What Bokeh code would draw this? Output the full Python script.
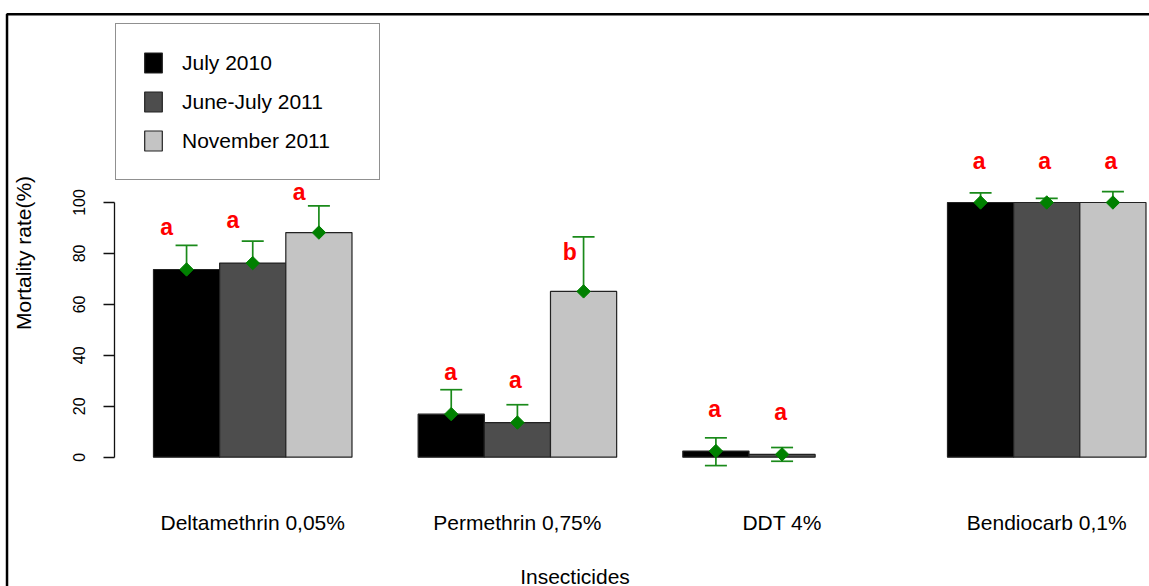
from math import pi
from bokeh.plotting import figure
from bokeh.models import (Range1d, LinearAxis, FixedTicker, Whisker, TeeHead,
                          ColumnDataSource, Label, BoxAnnotation)
from bokeh.core.properties import value
from bokeh.embed import file_html
from bokeh.resources import INLINE

# ---------------- data ----------------
categories = ["Deltamethrin 0,05%", "Permethrin 0,75%", "DDT 4%", "Bendiocarb 0,1%"]
series_names = ["July 2010", "June-July 2011", "November 2011"]

mortality_jul2010 = [73.7, 16.9, 2.4, 100.0]
mortality_junjul2011 = [76.2, 13.6, 1.1, 100.0]
mortality_nov2011 = [88.2, 65.1, None, 100.0]

upper_jul2010 = [83.2, 26.5, 7.6, 103.8]
lower_jul2010 = [63.8, 7.1, -3.3, 95.7]
upper_junjul2011 = [84.8, 20.6, 3.8, 101.6]
lower_junjul2011 = [67.5, 6.6, -1.6, 98.3]
upper_nov2011 = [98.7, 86.5, None, 104.3]
lower_nov2011 = [77.7, 42.8, None, 95.2]

letters_jul2010 = ["a", "a", "a", "a"]
letters_junjul2011 = ["a", "a", "a", "a"]
letters_nov2011 = ["a", "b", None, "a"]
letter_y_jul2010 = [90.3, 33.6, 19.1, 116.2]
letter_y_junjul2011 = [93.0, 30.5, 17.9, 116.2]
letter_y_nov2011 = [104.3, 80.4, None, 116.2]
letter_dx_jul2010 = [-0.3, -0.01, -0.02, -0.02]
letter_dx_junjul2011 = [-0.3, -0.03, -0.02, -0.03]
letter_dx_nov2011 = [-0.3, -0.21, None, -0.03]

y_ticks = [0, 20, 40, 60, 80, 100]

# ---------------- styling ----------------
FONT = "Liberation Sans"
bar_colors = ["#000000", "#4D4D4D", "#C4C4C4"]
GREEN = "#008000"
WL = "#1a8a1a"

W, H = 1149, 586
p = figure(width=W, height=H, output_backend="svg", toolbar_location=None,
           x_range=Range1d(-1.312, 16.053), y_range=Range1d(-50.77, 179.31),
           x_axis_type=None, y_axis_type=None, min_border=0)
p.grid.visible = False
p.outline_line_color = None
p.background_fill_color = "white"
p.border_fill_color = "white"

# figure border (top & left edges visible, other edges fall off the canvas)
p.add_layout(BoxAnnotation(left=-1.2135, top=173.9, right=30, bottom=-200,
                           fill_alpha=0, line_color="black", line_alpha=1.0,
                           line_width=2.5, level="underlay"))

series = [
    (mortality_jul2010, upper_jul2010, lower_jul2010, letters_jul2010, letter_y_jul2010, letter_dx_jul2010),
    (mortality_junjul2011, upper_junjul2011, lower_junjul2011, letters_junjul2011, letter_y_junjul2011, letter_dx_junjul2011),
    (mortality_nov2011, upper_nov2011, lower_nov2011, letters_nov2011, letter_y_nov2011, letter_dx_nov2011),
]

group_centers = []
for g in range(len(categories)):
    group_centers.append(1.5 + 4 * g + 1)

for j, (vals, up, lo, let, ly, ldx) in enumerate(series):
    xs, tops, ups, los, lxs, lys, lts = [], [], [], [], [], [], []
    for g, v in enumerate(vals):
        if v is None:
            continue
        x = 1.5 + 4 * g + j
        xs.append(x)
        tops.append(v)
        ups.append(up[g])
        los.append(lo[g])
        lxs.append(x + ldx[g])
        lys.append(ly[g])
        lts.append(let[g])
    src = ColumnDataSource(dict(x=xs, top=tops, upper=ups, lower=los))
    p.vbar(x="x", top="top", bottom=0, width=1, source=src,
           fill_color=bar_colors[j], line_color="#222222", line_width=1.2,
           legend_label=series_names[j])
    wh = Whisker(source=src, base="x", upper="upper", lower="lower",
                 line_color=WL, line_width=1.7,
                 upper_head=TeeHead(size=22, line_color=WL, line_width=1.7),
                 lower_head=TeeHead(size=22, line_color=WL, line_width=1.7))
    p.add_layout(wh)
    p.scatter(x="x", y="top", source=src, marker="square", angle=pi / 4,
              size=9.5, fill_color=GREEN, line_color=GREEN)
    lsrc = ColumnDataSource(dict(x=lxs, y=lys, t=lts))
    p.text(x="x", y="y", text="t", source=lsrc, text_color="#FF0000",
           text_font=value(FONT), text_font_style="bold", text_font_size="23px",
           text_align="center", text_baseline="alphabetic")

# y axis (R style)
yax = LinearAxis(fixed_location=0.41, bounds=(0, 100),
                 ticker=FixedTicker(ticks=y_ticks))
yax.major_tick_out = 11
yax.major_tick_in = 0
yax.minor_tick_out = 0
yax.minor_tick_in = 0
yax.axis_line_width = 1.3
yax.major_tick_line_width = 1.3
yax.axis_line_color = "#111111"
yax.major_tick_line_color = "#111111"
yax.major_label_orientation = "vertical"
yax.major_label_text_font = FONT
yax.major_label_text_font_size = "16px"
yax.major_label_text_color = "black"
yax.major_label_standoff = 18
p.add_layout(yax, "left")

# x axis: category labels
xax = LinearAxis(fixed_location=0, ticker=FixedTicker(ticks=group_centers),
                 major_label_overrides={c: n for c, n in zip(group_centers, categories)})
xax.axis_line_color = None
xax.major_tick_line_color = None
xax.minor_tick_line_color = None
xax.major_tick_out = 0
xax.major_tick_in = 0
xax.major_label_text_font = FONT
xax.major_label_text_font_size = "21px"
xax.major_label_text_color = "black"
xax.major_label_standoff = 54
xax.axis_label = "Insecticides"
xax.axis_label_text_font = FONT
xax.axis_label_text_font_size = "21px"
xax.axis_label_text_font_style = "normal"
xax.axis_label_text_color = "black"
xax.axis_label_standoff = 27
p.add_layout(xax, "below")

# y axis title
p.add_layout(Label(x=-0.965, y=80.2, text="Mortality rate(%)", angle=pi / 2,
                   text_align="center", text_baseline="middle",
                   text_font=FONT, text_font_size="21px", text_color="black"))

# legend
lg = p.legend[0]
lg.location = (115, 406)
lg.margin = 0
lg.padding = 26
lg.spacing = 14
lg.glyph_width = 22
lg.glyph_height = 25
lg.label_height = 25
lg.label_width = 171
lg.label_standoff = 18
lg.label_text_font = FONT
lg.label_text_font_size = "21px"
lg.label_text_color = "black"
lg.border_line_color = "#222222"
lg.border_line_width = 1.6
lg.background_fill_alpha = 1.0

open("out.html", "w").write(file_html(p, INLINE))
